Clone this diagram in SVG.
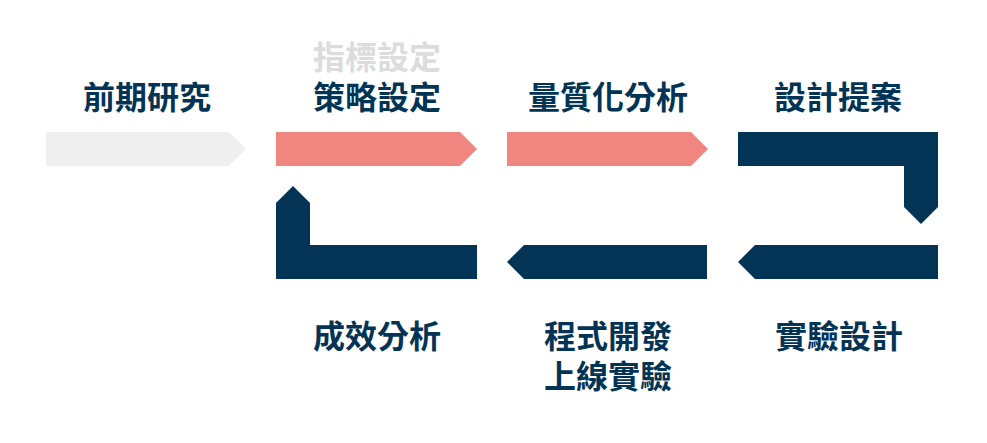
<svg xmlns="http://www.w3.org/2000/svg" width="987" height="443" viewBox="0 0 987 443">
<style>
.lbl{font-family:"Noto Sans CJK TC","Noto Sans CJK SC",sans-serif;font-weight:700;font-size:32px;fill:#033456;text-anchor:middle}
.dim{fill:#dcdcdc}
.navy{fill:#033456}
.pink{fill:#f0867f}
.gray{fill:#efefef}
</style>
<rect width="987" height="443" fill="#ffffff"/>
<g id="connectors">
<polygon id="a1" class="gray" points="46,132 229,132 246,149 229,166 46,166"/>
<polygon id="a2" class="pink" points="276,132 460,132 477,149 460,166 276,166"/>
<polygon id="a3" class="pink" points="507,132 691,132 708,149 691,166 507,166"/>
<polygon id="a4" class="navy" points="738,132 938,132 938,207 921,224 904,207 904,166 738,166"/>
<polygon id="a5" class="navy" points="938,245 938,279 755,279 738,262 755,245"/>
<polygon id="a6" class="navy" points="707,245 707,279 524,279 507,262 524,245"/>
<polygon id="a7" class="navy" points="477,279 276,279 276,203 293,186 310,203 310,245 477,245"/>
</g>
<g id="n1"><text class="lbl" x="147" y="109">前期研究</text></g>
<g id="n2"><text class="lbl dim" x="377" y="69">指標設定</text><text class="lbl" x="377" y="109">策略設定</text></g>
<g id="n3"><text class="lbl" x="608" y="109">量質化分析</text></g>
<g id="n4"><text class="lbl" x="838" y="109">設計提案</text></g>
<g id="n5"><text class="lbl" x="839" y="348">實驗設計</text></g>
<g id="n6"><text class="lbl" x="608" y="348">程式開發</text><text class="lbl" x="608" y="388">上線實驗</text></g>
<g id="n7"><text class="lbl" x="377" y="348">成效分析</text></g>
</svg>
